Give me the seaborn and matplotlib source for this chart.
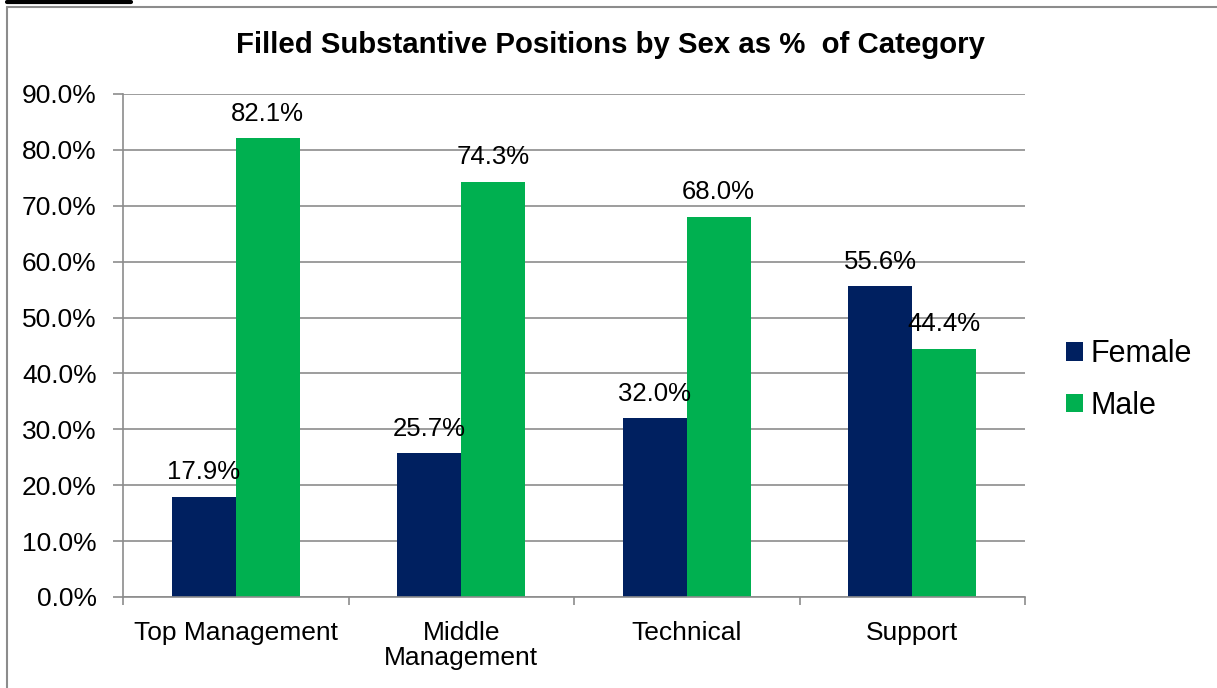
import matplotlib
matplotlib.use("Agg")
import matplotlib.pyplot as plt
import seaborn as sns
import pandas as pd

categories = ["Top Management", "Middle\nManagement", "Technical", "Support"]
female = [17.9, 25.7, 32.0, 55.6]
male = [82.1, 74.3, 68.0, 44.4]
series = ["Female", "Male"]
yticks = [0, 10, 20, 30, 40, 50, 60, 70, 80, 90]

df = pd.DataFrame({
    "category": categories * 2,
    "sex": ["Female"] * len(categories) + ["Male"] * len(categories),
    "pct": female + male,
})

sns.set_theme(style="white")
plt.rcParams["font.family"] = ["Liberation Sans", "DejaVu Sans"]
plt.rcParams["text.color"] = "black"
plt.rcParams["xtick.labelcolor"] = "black"
plt.rcParams["ytick.labelcolor"] = "black"

fig = plt.figure(figsize=(12.17, 6.88), dpi=100)
ax = fig.add_axes([123 / 1217, 1 - 597 / 688, (1025 - 123) / 1217, (597 - 94) / 688])

palette = {"Female": "#002060", "Male": "#00B050"}
sns.barplot(data=df, x="category", y="pct", hue="sex", hue_order=series,
            order=categories, palette=palette, width=0.567, saturation=1,
            linewidth=0, ax=ax, zorder=2, legend=True)

ax.set_ylim(0, 90)
ax.set_xlim(-0.5, len(categories) - 0.5)
ax.set_yticks(yticks)
ax.set_yticklabels([f"{v:.1f}%" for v in yticks], fontsize=19, color="black")
ax.set_xticks(range(len(categories)))
ax.set_xticklabels(categories, fontsize=19, linespacing=1.05, color="black")
ax.tick_params(axis="x", which="major", length=0, pad=17)
ax.set_xticks([i - 0.5 for i in range(len(categories) + 1)], minor=True)
ax.tick_params(axis="x", which="minor", length=6, color="#8c8c8c", width=1.2,
               direction="out", bottom=True)
ax.tick_params(axis="y", length=7, color="#8c8c8c", width=1.2, direction="out",
               left=True, pad=12)
ax.set_xlabel("")
ax.set_ylabel("")

ax.yaxis.grid(True, color="#8c8c8c", linewidth=1.2, zorder=0)
ax.set_axisbelow(True)
for side in ["top", "right"]:
    ax.spines[side].set_visible(False)
for side in ["left", "bottom"]:
    ax.spines[side].set_color("#8c8c8c")
    ax.spines[side].set_linewidth(1.2)

for cont in ax.containers:
    ax.bar_label(cont, labels=[f"{v:.1f}%" for v in cont.datavalues],
                 padding=9, fontsize=18.5, color="black", zorder=5)

handles, labels = ax.get_legend_handles_labels()
leg = ax.legend(handles, labels, loc="center left", bbox_to_anchor=(1.015, 0.431),
                frameon=False, fontsize=22, handlelength=0.55, handleheight=0.55,
                handletextpad=0.25, labelspacing=0.71)
for t in leg.get_texts():
    t.set_color("black")

fig.suptitle("Filled Substantive Positions by Sex as %  of Category",
             x=611 / 1217, y=1 - 45 / 688, va="center", fontsize=21.2,
             fontweight="bold", color="black")

# outer frame and heading rule
fig.add_artist(plt.Line2D([7 / 1217, 7 / 1217], [0, 1 - 7 / 688],
                          transform=fig.transFigure, color="#8c8c8c", lw=1.5))
fig.add_artist(plt.Line2D([7 / 1217, 1], [1 - 7 / 688, 1 - 7 / 688],
                          transform=fig.transFigure, color="#8c8c8c", lw=1.5))
fig.add_artist(plt.Line2D([7 / 1217, 131 / 1217], [1 - 2 / 688, 1 - 2 / 688],
                          transform=fig.transFigure, color="black", lw=3))

fig.savefig("out.png", dpi=100)
